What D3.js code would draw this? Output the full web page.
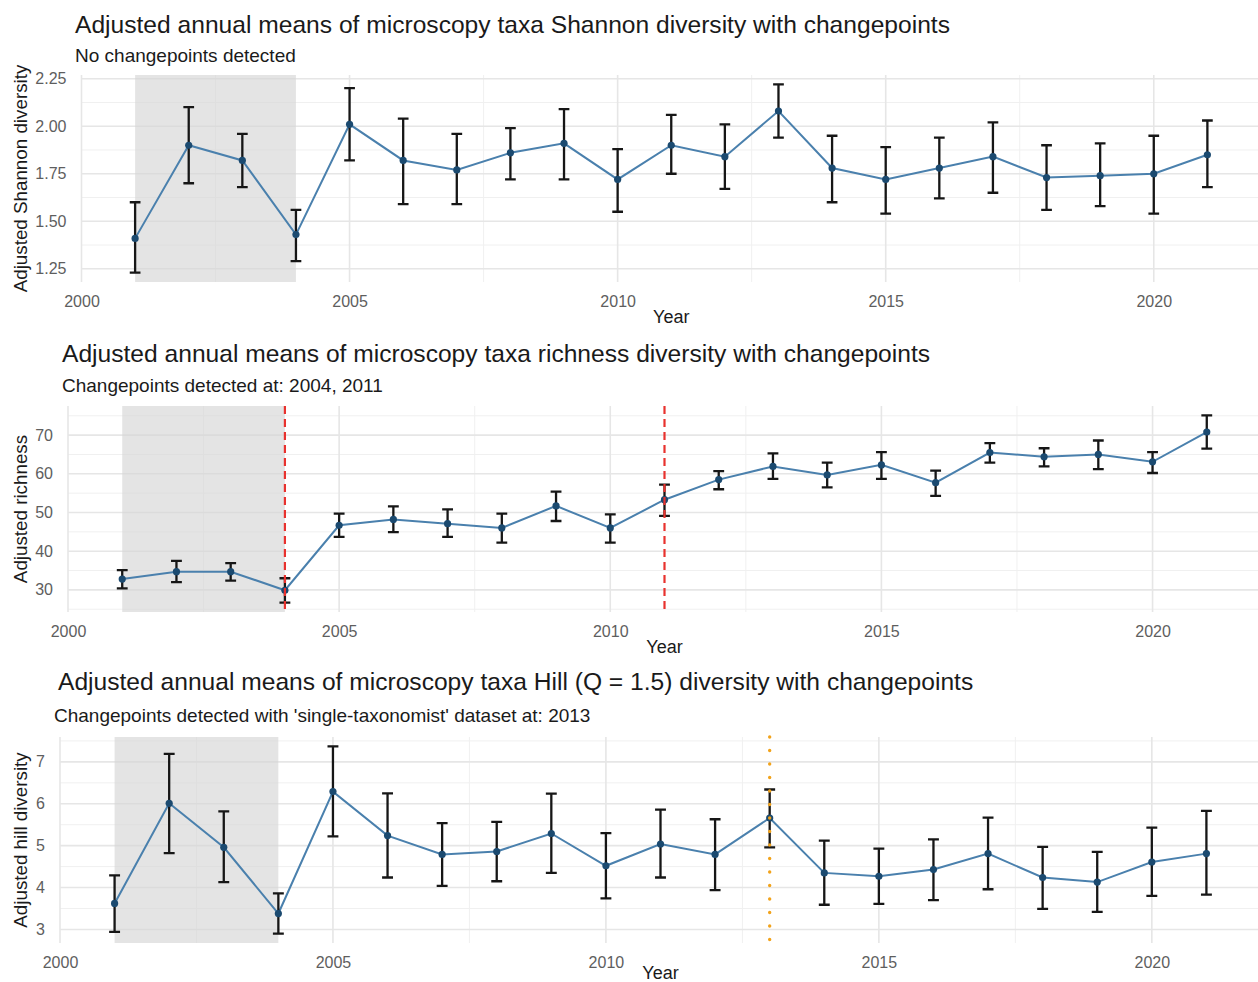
<!DOCTYPE html>
<html>
<head>
<meta charset="utf-8">
<script src="https://cdn.jsdelivr.net/npm/d3@7"></script>
<style>
  html, body { margin: 0; padding: 0; background: #ffffff; }
  svg { display: block; font-family: "Liberation Sans", Arial, sans-serif; }
</style>
</head>
<body>
<svg id="chart" width="1258" height="982"></svg>
<script>
// Survey years shared by all three panels
const years = [2001, 2002, 2003, 2004, 2005, 2006, 2007, 2008, 2009, 2010, 2011,
               2012, 2013, 2014, 2015, 2016, 2017, 2018, 2019, 2020, 2021];
const xTicks = [2000, 2005, 2010, 2015, 2020];
const shadedYears = [2001, 2004];

// Shannon diversity: adjusted mean with lower / upper interval
const shannonMean = [1.41, 1.90, 1.82, 1.43, 2.01, 1.82, 1.77, 1.86, 1.91, 1.72, 1.90,
                     1.84, 2.08, 1.78, 1.72, 1.78, 1.84, 1.73, 1.74, 1.75, 1.85];
const shannonLow  = [1.23, 1.70, 1.68, 1.29, 1.82, 1.59, 1.59, 1.72, 1.72, 1.55, 1.75,
                     1.67, 1.94, 1.60, 1.54, 1.62, 1.65, 1.56, 1.58, 1.54, 1.68];
const shannonHigh = [1.60, 2.10, 1.96, 1.56, 2.20, 2.04, 1.96, 1.99, 2.09, 1.88, 2.06,
                     2.01, 2.22, 1.95, 1.89, 1.94, 2.02, 1.90, 1.91, 1.95, 2.03];
const shannonTicks = [1.25, 1.5, 1.75, 2.0, 2.25];
const shannonChangepoints = [];

// Taxa richness
const richnessMean = [32.8, 34.7, 34.7, 29.9, 46.7, 48.2, 47.1, 46.0, 51.7, 46.0, 53.3,
                      58.5, 61.9, 59.7, 62.3, 57.7, 65.5, 64.4, 65.0, 63.1, 70.8];
const richnessLow  = [30.4, 32.0, 32.4, 26.7, 43.7, 44.9, 43.7, 42.2, 47.8, 42.2, 49.1,
                      56.0, 58.7, 56.5, 58.7, 54.3, 62.9, 61.9, 61.2, 60.2, 66.5];
const richnessHigh = [35.1, 37.5, 36.9, 33.0, 49.7, 51.6, 50.8, 49.7, 55.4, 49.5, 57.2,
                      60.7, 65.3, 62.9, 65.6, 60.8, 67.9, 66.6, 68.6, 65.6, 75.1];
const richnessTicks = [30, 40, 50, 60, 70];
const richnessChangepoints = [2004, 2011];

// Hill diversity (Q = 1.5)
const hillMean = [3.62, 6.01, 4.96, 3.38, 6.29, 5.24, 4.79, 4.86, 5.29, 4.52, 5.04,
                  4.79, 5.66, 4.35, 4.27, 4.43, 4.81, 4.24, 4.13, 4.61, 4.81];
const hillLow  = [2.94, 4.82, 4.13, 2.90, 5.22, 4.24, 4.04, 4.15, 4.35, 3.74, 4.24,
                  3.94, 4.96, 3.59, 3.61, 3.70, 3.96, 3.49, 3.42, 3.80, 3.83];
const hillHigh = [4.29, 7.19, 5.82, 3.86, 7.37, 6.25, 5.54, 5.57, 6.24, 5.30, 5.86,
                  5.63, 6.34, 5.12, 4.93, 5.15, 5.67, 4.97, 4.85, 5.43, 5.83];
const hillTicks = [3, 4, 5, 6, 7];
const hillChangepoints = [2013];

const panels = [
  {
    title: "Adjusted annual means of microscopy taxa Shannon diversity with changepoints",
    subtitle: "No changepoints detected",
    yTitle: "Adjusted Shannon diversity",
    mean: shannonMean, low: shannonLow, high: shannonHigh,
    ticks: shannonTicks, fmt: d3.format(".2f"), changepoints: shannonChangepoints,
    cpStyle: "dashed",
    left: 81.5, top: 75, bottom: 282, titleX: 75, subX: 75, titleY: 33, subY: 61.5, yearY: 323
  },
  {
    title: "Adjusted annual means of microscopy taxa richness diversity with changepoints",
    subtitle: "Changepoints detected at: 2004, 2011",
    yTitle: "Adjusted richness",
    mean: richnessMean, low: richnessLow, high: richnessHigh,
    ticks: richnessTicks, fmt: d3.format("d"), changepoints: richnessChangepoints,
    cpStyle: "dashed",
    left: 68, top: 406, bottom: 612, titleX: 62, subX: 62, titleY: 362, subY: 391.5, yearY: 653
  },
  {
    title: "Adjusted annual means of microscopy taxa Hill (Q = 1.5) diversity with changepoints",
    subtitle: "Changepoints detected with 'single-taxonomist' dataset at: 2013",
    yTitle: "Adjusted hill diversity",
    mean: hillMean, low: hillLow, high: hillHigh,
    ticks: hillTicks, fmt: d3.format("d"), changepoints: hillChangepoints,
    cpStyle: "dotted",
    left: 60, top: 737, bottom: 943, titleX: 58, subX: 54, titleY: 690, subY: 721.5, yearY: 979
  }
];

const svg = d3.select("#chart");
const panelRight = 1261;

panels.forEach(p => {
  const g = svg.append("g");

  // ggplot-style 5% expansion on both axes
  const xExt = d3.extent(years);
  const xPad = (xExt[1] - xExt[0]) * 0.05;
  const x = d3.scaleLinear().domain([xExt[0] - xPad, xExt[1] + xPad]).range([p.left, panelRight]);

  const yMin = d3.min(p.low), yMax = d3.max(p.high);
  const yPad = (yMax - yMin) * 0.05;
  const y = d3.scaleLinear().domain([yMin - yPad, yMax + yPad]).range([p.bottom, p.top]);

  // minor grid lines halfway between major ticks
  const yStep = p.ticks[1] - p.ticks[0];
  const yMinor = [];
  for (let v = p.ticks[0] - yStep / 2; v <= yMax + yPad; v += yStep) {
    if (v >= yMin - yPad && !p.ticks.some(t => Math.abs(t - v) < 1e-9)) yMinor.push(v);
  }
  const xMinor = xTicks.map(t => t + 2.5).filter(v => v <= xExt[1] + xPad);

  g.append("g").selectAll("line").data(yMinor).join("line")
    .attr("x1", p.left).attr("x2", panelRight)
    .attr("y1", d => y(d)).attr("y2", d => y(d))
    .attr("stroke", "#f0f0f0").attr("stroke-width", 1);
  g.append("g").selectAll("line").data(xMinor).join("line")
    .attr("x1", d => x(d)).attr("x2", d => x(d))
    .attr("y1", p.top).attr("y2", p.bottom)
    .attr("stroke", "#f0f0f0").attr("stroke-width", 1);
  g.append("g").selectAll("line").data(p.ticks).join("line")
    .attr("x1", p.left).attr("x2", panelRight)
    .attr("y1", d => y(d)).attr("y2", d => y(d))
    .attr("stroke", "#e6e6e6").attr("stroke-width", 1.6);
  g.append("g").selectAll("line").data(xTicks).join("line")
    .attr("x1", d => x(d)).attr("x2", d => x(d))
    .attr("y1", p.top).attr("y2", p.bottom)
    .attr("stroke", "#e6e6e6").attr("stroke-width", 1.6);

  // shaded early period
  g.append("rect")
    .attr("x", x(shadedYears[0])).attr("width", x(shadedYears[1]) - x(shadedYears[0]))
    .attr("y", p.top).attr("height", p.bottom - p.top)
    .attr("fill", "#d6d6d6").attr("fill-opacity", 0.65);

  // axes (text only, as in theme_minimal)
  const xAxis = g.append("g").attr("transform", `translate(0,${p.bottom})`)
    .call(d3.axisBottom(x).tickValues(xTicks).tickFormat(d3.format("d")).tickSize(0).tickPadding(14));
  const yAxis = g.append("g").attr("transform", `translate(${p.left},0)`)
    .call(d3.axisLeft(y).tickValues(p.ticks).tickFormat(p.fmt).tickSize(0).tickPadding(15));
  [xAxis, yAxis].forEach(a => {
    a.select(".domain").remove();
    a.selectAll("text").attr("fill", "#5e5e5e").attr("font-size", 16)
      .attr("font-family", "'Liberation Sans', Arial, sans-serif");
  });

  // connecting line
  const pts = years.map((yr, i) => ({ yr, m: p.mean[i], lo: p.low[i], hi: p.high[i] }));
  g.append("path").datum(pts)
    .attr("d", d3.line().x(d => x(d.yr)).y(d => y(d.m)))
    .attr("fill", "none").attr("stroke", "#4a80ad").attr("stroke-width", 2);

  // error bars
  const capHalf = (x(1) - x(0)) * 0.1;
  const eb = g.append("g").attr("stroke", "#161616").attr("stroke-width", 2.3).attr("fill", "none");
  eb.selectAll("path").data(pts).join("path")
    .attr("d", d => {
      const cx = x(d.yr), t = y(d.hi), b = y(d.lo);
      return `M${cx - capHalf},${t}H${cx + capHalf}M${cx},${t}V${b}M${cx - capHalf},${b}H${cx + capHalf}`;
    });

  // points
  g.append("g").selectAll("circle").data(pts).join("circle")
    .attr("cx", d => x(d.yr)).attr("cy", d => y(d.m)).attr("r", 3.6)
    .attr("fill", "#1b4a70");

  // changepoint markers
  g.append("g").selectAll("line").data(p.changepoints).join("line")
    .attr("x1", d => x(d)).attr("x2", d => x(d))
    .attr("y1", p.top).attr("y2", p.bottom)
    .attr("stroke", p.cpStyle === "dashed" ? "#e8322e" : "#f2a31b")
    .attr("stroke-width", p.cpStyle === "dashed" ? 2.2 : 3.4)
    .attr("stroke-linecap", p.cpStyle === "dashed" ? "butt" : "round")
    .attr("stroke-dasharray", p.cpStyle === "dashed" ? "8,5" : "0.1,13.4");

  // titles
  g.append("text").attr("x", p.titleX).attr("y", p.titleY)
    .attr("font-size", 24.6).attr("fill", "#1a1a1a").text(p.title);
  g.append("text").attr("x", p.subX).attr("y", p.subY)
    .attr("font-size", 19).attr("fill", "#1a1a1a").text(p.subtitle);
  g.append("text")
    .attr("transform", `translate(27,${(p.top + p.bottom) / 2}) rotate(-90)`)
    .attr("text-anchor", "middle").attr("font-size", 18.8).attr("fill", "#1a1a1a")
    .text(p.yTitle);
  g.append("text").attr("x", (p.left + panelRight) / 2).attr("y", p.yearY)
    .attr("text-anchor", "middle").attr("font-size", 18).attr("fill", "#1a1a1a")
    .text("Year");
});
</script>
</body>
</html>
